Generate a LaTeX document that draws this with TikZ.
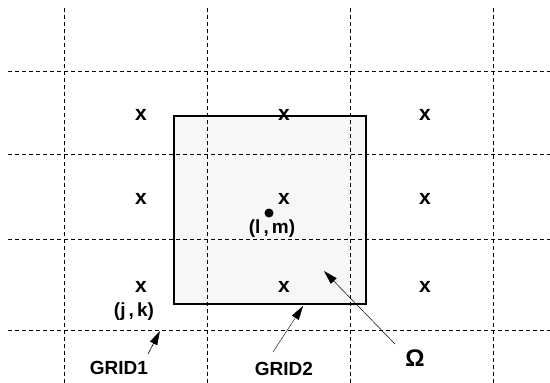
\documentclass[tikz,border=0pt]{standalone}
\usepackage{fontspec}
\setmainfont{Liberation Sans}
\usetikzlibrary{arrows.meta}
\begin{document}
\begin{tikzpicture}[x=1pt,y=-1pt,
  gridline/.style={line width=0.8pt,dash pattern=on 4pt off 3pt},
  lbl/.style={font=\fontsize{19}{19}\selectfont\bfseries,inner sep=0pt},
  xmark/.style={font=\fontsize{21}{21}\selectfont\bfseries,inner sep=0pt},
  ptr/.style={line width=0.6pt,-{Triangle[length=14pt,width=8pt]}}]
\useasboundingbox (0,0) rectangle (550,383);
% shaded region box
\filldraw[fill=black!3,line width=1.4pt] (174,116) rectangle (366,304);
% grid lines
\foreach \x in {64,207,350,493} \draw[gridline] (\x,8) -- (\x,383);
\foreach \y in {71,154,239,330} \draw[gridline] (8,\y) -- (550,\y);
% markers
\foreach \cx/\cn in {141/a,284/b,425/c}
  \foreach \cy/\rn in {118/1,202/2,290/3}
    \node[xmark] (m\cn\rn) at (\cx,\cy-3) {x};
\fill (269,213) circle (4.5pt);
\node[lbl] (lm) at (272,229) {(l\,,\,m)};
\node[lbl] (jk) at (134,312) {(j\,,\,k)};
\node[lbl] (g1) at (119,368) {GRID1};
\node[lbl] (g2) at (284,369) {GRID2};
\node[lbl,font=\fontsize{24}{24}\selectfont\bfseries] (om) at (415,358) {Ω};
\coordinate (g1t) at (160,331);
\coordinate (g1s) at (148,354);
\coordinate (g2t) at (303,306);
\coordinate (g2s) at (273,352);
\coordinate (omt) at (324,271);
\coordinate (oms) at (395,344);
\draw[ptr] (g1s) -- (g1t);
\draw[ptr,line width=0.4pt] (g2s) -- (g2t);
\draw[ptr,line width=0.5pt] (oms) -- (omt);
\end{tikzpicture}
\end{document}
